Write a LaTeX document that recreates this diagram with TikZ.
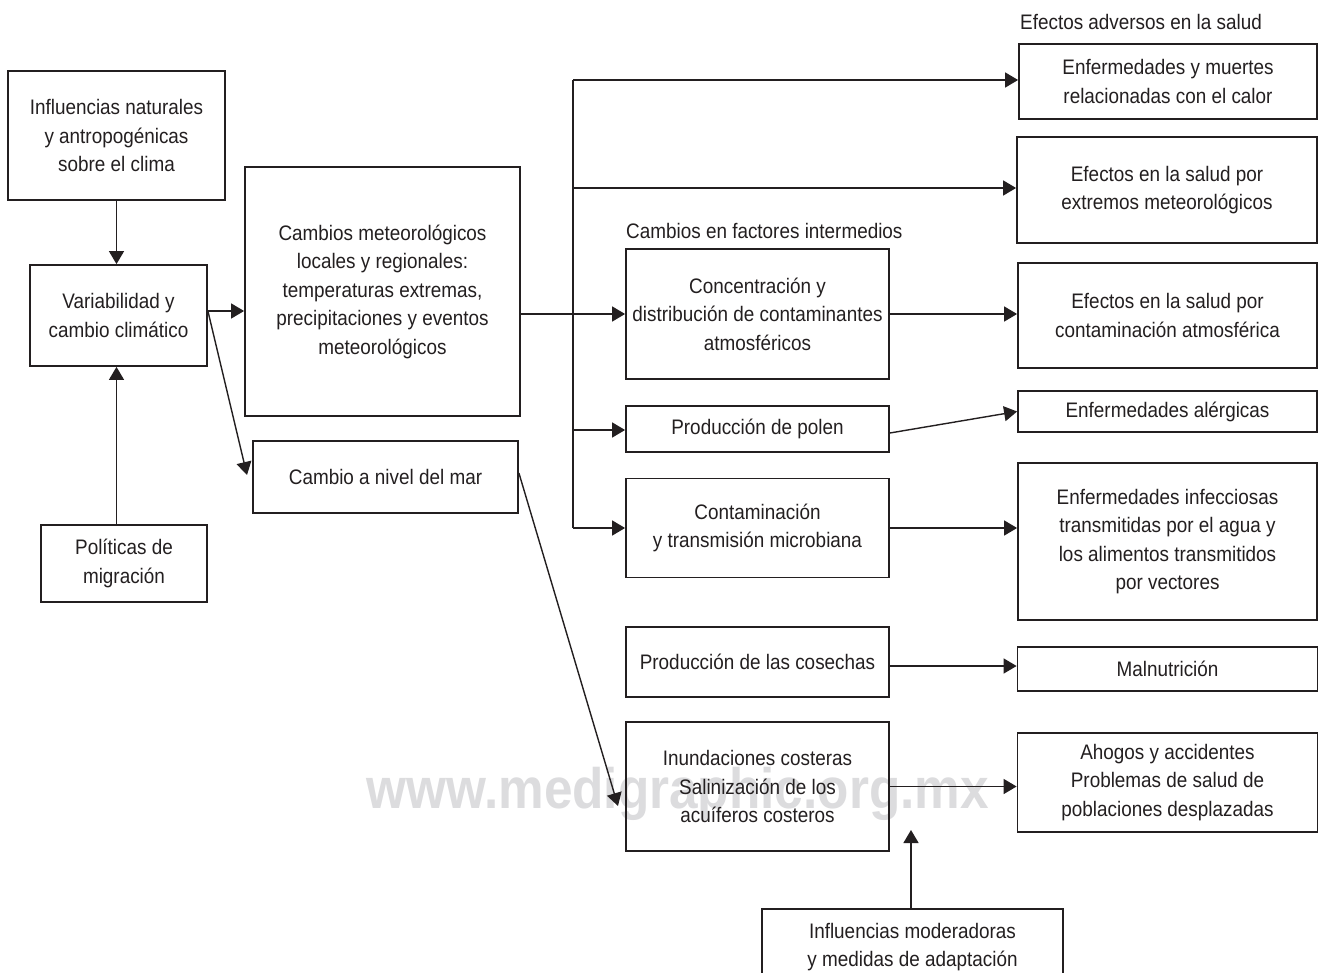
\documentclass[tikz,border=0pt]{standalone}
\usepackage{fontspec}
\setmainfont{Liberation Sans}[FakeStretch=0.9]
\usetikzlibrary{arrows.meta}
\definecolor{ink}{HTML}{231F20}
\definecolor{wm}{HTML}{DCDCDE}
\begin{document}
\begin{tikzpicture}[x=1pt,y=-1pt,
  box/.style={draw=ink, line width=1.8pt, inner sep=0pt, align=center, text=ink, font=\fontsize{21}{28.5}\selectfont},
  lbl/.style={inner sep=0pt, anchor=west, text=ink, font=\fontsize{21}{28.5}\selectfont},
  conn/.style={draw=ink, line width=1.4pt, -{Triangle[length=13pt,width=15pt]}},
  plain/.style={draw=ink, line width=1.4pt}]
\clip (0,0) rectangle (1319,973);
\fill[white] (0,0) rectangle (1319,973);
% watermark
\node[text=wm, font=\fontsize{57}{57}\bfseries\selectfont, inner sep=0pt, anchor=base] (wmark) at (677.5,808) {www.medigraphic.org.mx};
% left column
\node[box, minimum width=217pt, minimum height=129pt] (A) at (116.5,135.5) {Influencias naturales\\y antropogénicas\\sobre el clima};
\node[box, minimum width=177pt, minimum height=101pt] (B) at (118.5,315.5) {Variabilidad y\\cambio climático};
\node[box, minimum width=166pt, minimum height=77pt] (C) at (124,563.5) {Políticas de\\migración};
\node[box, minimum width=275pt, minimum height=249pt] (D) at (382.5,291.5) {Cambios meteorológicos\\locales y regionales:\\temperaturas extremas,\\precipitaciones y eventos\\meteorológicos};
\node[box, minimum width=265pt, minimum height=72pt] (E) at (385.5,477) {Cambio a nivel del mar};
% middle column
\node[lbl] (lblInt) at (626,231) {Cambios en factores intermedios};
\node[box, minimum width=263pt, minimum height=130pt] (F) at (757.5,314) {Concentración y\\distribución de contaminantes\\atmosféricos};
\node[box, minimum width=263pt, minimum height=46pt] (G) at (757.5,429) {Producción de polen};
\node[box, minimum width=263pt, minimum height=99pt] (H) at (757.5,528) {Contaminación\\y transmisión microbiana};
\node[box, minimum width=263pt, minimum height=70pt] (I) at (757.5,662) {Producción de las cosechas};
\node[box, minimum width=263pt, minimum height=129pt] (J) at (757.5,786.5) {Inundaciones costeras\\Salinización de los\\acuíferos costeros};
\node[box, minimum width=301pt, minimum height=76pt] (K) at (912.5,947) {Influencias moderadoras\\y medidas de adaptación};
% right column
\node[lbl] (lblEf) at (1020,22) {Efectos adversos en la salud};
\node[box, minimum width=298pt, minimum height=75pt] (L) at (1168,81.5) {Enfermedades y muertes\\relacionadas con el calor};
\node[box, minimum width=300pt, minimum height=106pt] (M) at (1167,190) {Efectos en la salud por\\extremos meteorológicos};
\node[box, minimum width=299pt, minimum height=105pt] (N) at (1167.5,315.5) {Efectos en la salud por\\contaminación atmosférica};
\node[box, minimum width=299pt, minimum height=41pt] (O) at (1167.5,411.5) {Enfermedades alérgicas};
\node[box, minimum width=299pt, minimum height=157pt] (P) at (1167.5,541.5) {Enfermedades infecciosas\\transmitidas por el agua y\\los alimentos transmitidos\\por vectores};
\node[box, minimum width=300pt, minimum height=44pt] (Q) at (1167.5,669) {Malnutrición};
\node[box, minimum width=300pt, minimum height=99pt] (R) at (1167.5,782.5) {Ahogos y accidentes\\Problemas de salud de\\poblaciones desplazadas};
% connectors
\draw[conn] (A.south) -- (A.south |- B.north);
\draw[conn] (C.north -| A.south) -- (B.south -| A.south);
\draw[conn] ([yshift=4.5pt]B.east) -- ([yshift=4.5pt]B.east -| D.west);
\coordinate (eIn) at (247,475);
\draw[conn] ([yshift=4.5pt]B.east) -- (eIn);
\draw[conn] (D.east |- F.west) -- (F.west);
\coordinate (t1) at (573,80);
\coordinate (t3) at (573,188);
\coordinate (t4) at (573,430);
\coordinate (t2) at (573,528);
\draw[plain] (t1) -- (t2);
\draw[conn] (t1) -- (t1 -| L.west);
\draw[conn] (t3) -- (t3 -| M.west);
\draw[conn] (t4) -- (t4 -| G.west);
\draw[conn] (t2) -- (t2 -| H.west);
\draw[conn] (F.east) -- (F.east -| N.west);
\draw[conn] ([yshift=-4pt]G.east) -- (O.west);
\draw[conn] (H.east) -- (H.east -| P.west);
\draw[conn] ([yshift=-4pt]I.east) -- ([yshift=-4pt]I.east -| Q.west);
\draw[conn] (J.east) -- (J.east -| R.west);
\coordinate (jIn) at (618,806);
\draw[conn] ([yshift=4pt]E.east) -- (jIn);
\coordinate (kEnd) at (911,830);
\draw[conn] (kEnd |- K.north) -- (kEnd);
\end{tikzpicture}
\end{document}
